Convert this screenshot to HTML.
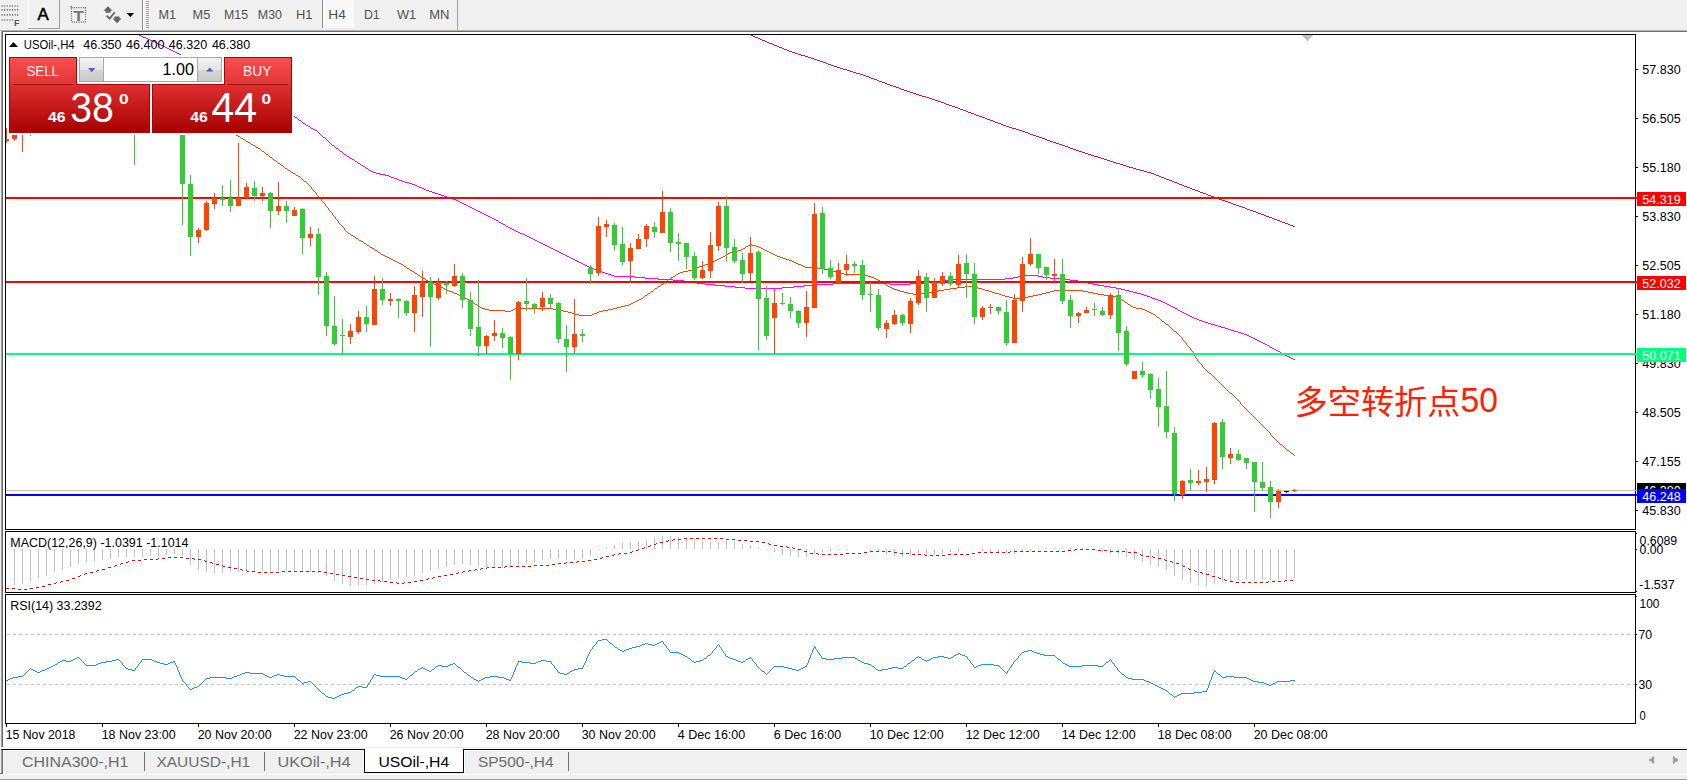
<!DOCTYPE html>
<html lang="zh">
<head>
<meta charset="utf-8">
<title>USOil-,H4</title>
<style>
html,body{margin:0;padding:0;background:#ffffff;}
body{width:1687px;height:780px;overflow:hidden;position:relative;}
svg{position:absolute;left:0;top:0;display:block;}
svg text{font-family:"Liberation Sans","Noto Sans CJK SC",sans-serif;white-space:pre;}
.crisp{shape-rendering:crispEdges;}
.cn{font-family:"Liberation Sans","Noto Sans CJK SC",sans-serif;font-weight:400;}
</style>
</head>
<body>
<svg width="1687" height="780" viewBox="0 0 1687 780">
<defs>
<linearGradient id="gTop" x1="0" y1="0" x2="0" y2="1"><stop offset="0" stop-color="#fb5050"/><stop offset="1" stop-color="#e23434"/></linearGradient>
<linearGradient id="gBot" x1="0" y1="0" x2="0" y2="1"><stop offset="0" stop-color="#e03030"/><stop offset="1" stop-color="#a60000"/></linearGradient>
<linearGradient id="gBtn" x1="0" y1="0" x2="0" y2="1"><stop offset="0" stop-color="#f4f4f4"/><stop offset="0.5" stop-color="#e4e4e4"/><stop offset="0.5" stop-color="#d6d6d6"/><stop offset="1" stop-color="#cacaca"/></linearGradient>
<clipPath id="clipMain"><rect x="6" y="35" width="1629" height="494"/></clipPath>
</defs>

<g id="toolbar" class="crisp">
<rect x="0" y="0" width="1687" height="30" fill="#f0f0f0"/>
<rect x="0" y="30" width="1687" height="1" fill="#b4b4b4"/>
<rect x="0" y="31" width="1687" height="1" fill="#6e6e6e"/>
<rect x="0" y="32" width="1687" height="2" fill="#ffffff"/>
</g><g id="toolbar-icons">
<line x1="1.5" y1="6" x2="18.6" y2="6" stroke="#6a6a6a" stroke-width="1.7" stroke-dasharray="1.1 1.5"/>
<line x1="1.5" y1="9.8" x2="18.6" y2="9.8" stroke="#6a6a6a" stroke-width="1.7" stroke-dasharray="1.1 1.5"/>
<line x1="1.5" y1="14.8" x2="18.6" y2="14.8" stroke="#6a6a6a" stroke-width="1.7" stroke-dasharray="1.1 1.5"/>
<line x1="1.5" y1="20" x2="13.2" y2="20" stroke="#6a6a6a" stroke-width="1.7" stroke-dasharray="1.1 1.5"/>
<rect x="28" y="0" width="1" height="29" fill="#ffffff" class="crisp"/>
<rect x="28" y="28" width="32" height="1" fill="#a0a0a0" class="crisp"/>
<rect x="59" y="0" width="1" height="29" fill="#a0a0a0" class="crisp"/>
<rect x="71.5" y="7.6" width="14" height="14.6" fill="none" stroke="#5a5a5a" stroke-width="1.2" stroke-dasharray="1 1.3"/>
<path d="M70 7.6l1.2-2.2l1.4 2.2z" fill="#707070"/>
<path d="M108 6.2l4.5 4.5h-2v2h-5v-2h-2zM117 23.2l4.5-4.6h-2v-2h-5v2h-2z" fill="#636363"/>
<path d="M106.6 15.6l3 3l5.2-6.4" stroke="#636363" stroke-width="1.8" fill="none"/>
<path d="M126.6 13h7.6l-3.8 4z" fill="#000"/>
</g><g class="crisp">
<rect x="142" y="0" width="1" height="30" fill="#8c8c8c"/>
<rect x="143" y="0" width="1" height="30" fill="#fafafa"/>
<rect x="146" y="1" width="3" height="1" fill="#a0a0a0"/>
<rect x="146" y="3" width="3" height="1" fill="#a0a0a0"/>
<rect x="146" y="5" width="3" height="1" fill="#a0a0a0"/>
<rect x="146" y="7" width="3" height="1" fill="#a0a0a0"/>
<rect x="146" y="9" width="3" height="1" fill="#a0a0a0"/>
<rect x="146" y="11" width="3" height="1" fill="#a0a0a0"/>
<rect x="146" y="13" width="3" height="1" fill="#a0a0a0"/>
<rect x="146" y="15" width="3" height="1" fill="#a0a0a0"/>
<rect x="146" y="17" width="3" height="1" fill="#a0a0a0"/>
<rect x="146" y="19" width="3" height="1" fill="#a0a0a0"/>
<rect x="146" y="21" width="3" height="1" fill="#a0a0a0"/>
<rect x="146" y="23" width="3" height="1" fill="#a0a0a0"/>
<rect x="146" y="25" width="3" height="1" fill="#a0a0a0"/>
<rect x="146" y="27" width="3" height="1" fill="#a0a0a0"/>
<rect x="322" y="0" width="31" height="28" fill="#f8f8f8"/>
<rect x="322" y="0" width="1" height="28" fill="#909090"/>
<rect x="353" y="0" width="1" height="28" fill="#ffffff"/>
<rect x="457" y="0" width="1" height="30" fill="#a0a0a0"/>
</g>
<g id="toolbar-text">
<text x="37.4" y="19.6" font-size="16.2" fill="#000" textLength="11.2" lengthAdjust="spacingAndGlyphs" stroke="#000" stroke-width="0.55">A</text>
<text x="73.2" y="20.8" font-size="14.6" fill="#767676" textLength="10.6" lengthAdjust="spacingAndGlyphs" font-weight="bold">T</text>
<text x="13.9" y="25.8" font-size="9.4" fill="#555" textLength="5.4" lengthAdjust="spacingAndGlyphs" font-weight="bold">F</text>
<text x="158.4" y="19.4" font-size="12.5" fill="#505050" textLength="17.6" lengthAdjust="spacingAndGlyphs">M1</text>
<text x="192.6" y="19.4" font-size="12.5" fill="#505050" textLength="17.6" lengthAdjust="spacingAndGlyphs">M5</text>
<text x="224.0" y="19.4" font-size="12.5" fill="#505050" textLength="24.0" lengthAdjust="spacingAndGlyphs">M15</text>
<text x="257.8" y="19.4" font-size="12.5" fill="#505050" textLength="24.2" lengthAdjust="spacingAndGlyphs">M30</text>
<text x="296.0" y="19.4" font-size="12.5" fill="#505050" textLength="16.4" lengthAdjust="spacingAndGlyphs">H1</text>
<text x="328.3" y="19.4" font-size="12.5" fill="#505050" textLength="17.5" lengthAdjust="spacingAndGlyphs">H4</text>
<text x="363.9" y="19.4" font-size="12.5" fill="#505050" textLength="15.9" lengthAdjust="spacingAndGlyphs">D1</text>
<text x="397.0" y="19.4" font-size="12.5" fill="#505050" textLength="19.2" lengthAdjust="spacingAndGlyphs">W1</text>
<text x="429.2" y="19.4" font-size="12.5" fill="#505050" textLength="20.2" lengthAdjust="spacingAndGlyphs">MN</text>
</g>
<g id="frame" class="crisp">
<rect x="0" y="31" width="1" height="744" fill="#f0f0f0"/>
<rect x="1" y="31" width="1" height="716" fill="#a0a0a0"/>
<rect x="2" y="31" width="1" height="716" fill="#696969"/>
<rect x="1" y="750" width="1" height="23" fill="#a0a0a0"/>
<rect x="2" y="750" width="1" height="23" fill="#696969"/>
<rect x="0" y="773" width="3" height="1" fill="#696969"/>
<rect x="5" y="34" width="1631" height="1" fill="#000"/>
<rect x="5" y="529" width="1631" height="1" fill="#000"/>
<rect x="5" y="34" width="1" height="496" fill="#000"/>
<rect x="1635" y="34" width="1" height="496" fill="#000"/>
<rect x="5" y="531" width="1631" height="1" fill="#000"/>
<rect x="5" y="592" width="1631" height="1" fill="#000"/>
<rect x="5" y="531" width="1" height="62" fill="#000"/>
<rect x="1635" y="531" width="1" height="62" fill="#000"/>
<rect x="5" y="594" width="1631" height="1" fill="#000"/>
<rect x="5" y="723" width="1631" height="1" fill="#000"/>
<rect x="5" y="594" width="1" height="130" fill="#000"/>
<rect x="1635" y="594" width="1" height="130" fill="#000"/>
</g>
<g id="main" class="crisp" clip-path="url(#clipMain)">
<path d="M1301.5 35h12l-6 6.5z" fill="#c0c0c0"/>
<path d="M749 34.5h2M751 35.5h2M753 36.5h2M755 37.5h3M758 38.5h2M760 39.5h2M762 40.5h3M765 41.5h2M767 42.5h2M769 43.5h3M772 44.5h2M774 45.5h3M777 46.5h2M779 47.5h3M782 48.5h2M784 49.5h3M787 50.5h2M789 51.5h3M792 52.5h3M795 53.5h3M798 54.5h3M801 55.5h4M805 56.5h3M808 57.5h3M811 58.5h3M814 59.5h3M817 60.5h3M820 61.5h3M823 62.5h3M826 63.5h2M828 64.5h3M831 65.5h3M834 66.5h3M837 67.5h3M840 68.5h3M843 69.5h4M847 70.5h3M850 71.5h3M853 72.5h3M856 73.5h4M860 74.5h3M863 75.5h3M866 76.5h3M869 77.5h2M871 78.5h3M874 79.5h3M877 80.5h2M879 81.5h3M882 82.5h3M885 83.5h2M887 84.5h3M890 85.5h3M893 86.5h3M896 87.5h3M899 88.5h2M901 89.5h3M904 90.5h3M907 91.5h3M910 92.5h3M913 93.5h3M916 94.5h3M919 95.5h3M922 96.5h4M926 97.5h3M929 98.5h3M932 99.5h3M935 100.5h3M938 101.5h3M941 102.5h3M944 103.5h2M946 104.5h3M949 105.5h3M952 106.5h3M955 107.5h3M958 108.5h2M960 109.5h3M963 110.5h3M966 111.5h2M968 112.5h3M971 113.5h3M974 114.5h2M976 115.5h3M979 116.5h3M982 117.5h3M985 118.5h2M987 119.5h3M990 120.5h3M993 121.5h2M995 122.5h3M998 123.5h3M1001 124.5h2M1003 125.5h3M1006 126.5h3M1009 127.5h3M1012 128.5h4M1016 129.5h3M1019 130.5h3M1022 131.5h3M1025 132.5h3M1028 133.5h2M1030 134.5h3M1033 135.5h3M1036 136.5h3M1039 137.5h3M1042 138.5h3M1045 139.5h2M1047 140.5h3M1050 141.5h3M1053 142.5h3M1056 143.5h3M1059 144.5h3M1062 145.5h3M1065 146.5h3M1068 147.5h2M1070 148.5h3M1073 149.5h3M1076 150.5h3M1079 151.5h3M1082 152.5h3M1085 153.5h3M1088 154.5h3M1091 155.5h3M1094 156.5h4M1098 157.5h3M1101 158.5h3M1104 159.5h3M1107 160.5h3M1110 161.5h3M1113 162.5h3M1116 163.5h4M1120 164.5h3M1123 165.5h3M1126 166.5h3M1129 167.5h4M1133 168.5h3M1136 169.5h4M1140 170.5h4M1144 171.5h3M1147 172.5h4M1151 173.5h3M1154 174.5h2M1156 175.5h3M1159 176.5h2M1161 177.5h3M1164 178.5h2M1166 179.5h3M1169 180.5h3M1172 181.5h2M1174 182.5h3M1177 183.5h2M1179 184.5h3M1182 185.5h2M1184 186.5h3M1187 187.5h3M1190 188.5h2M1192 189.5h3M1195 190.5h3M1198 191.5h2M1200 192.5h3M1203 193.5h3M1206 194.5h2M1208 195.5h3M1211 196.5h3M1214 197.5h3M1217 198.5h2M1219 199.5h3M1222 200.5h3M1225 201.5h3M1228 202.5h3M1231 203.5h2M1233 204.5h3M1236 205.5h3M1239 206.5h3M1242 207.5h3M1245 208.5h2M1247 209.5h3M1250 210.5h3M1253 211.5h3M1256 212.5h2M1258 213.5h3M1261 214.5h3M1264 215.5h2M1266 216.5h3M1269 217.5h3M1272 218.5h2M1274 219.5h3M1277 220.5h3M1280 221.5h2M1282 222.5h3M1285 223.5h3M1288 224.5h2M1290 225.5h3M1293 226.5h2" stroke="#dc143c" stroke-width="1" fill="none"/>
<path d="M137 34.5h2M139 35.5h2M141 36.5h2M143 37.5h3M146 38.5h2M148 39.5h2M150 40.5h2M152 41.5h3M155 42.5h2M157 43.5h2M159 44.5h2M161 45.5h2M163 46.5h2M165 47.5h2M167 48.5h2M169 49.5h2M171 50.5h2M173 51.5h2M175 52.5h2M177 53.5h2M179 54.5h2M181 55.5h2M183 56.5h2" stroke="#ff00ff" stroke-width="1" fill="none"/>
<path d="M294 116.5h1M295 117.5h2M297 118.5h1M298 119.5h1M299 120.5h2M301 121.5h1M302 122.5h1M303 123.5h2M305 124.5h1M306 125.5h2M308 126.5h2M310 127.5h1M311 128.5h2M313 129.5h2M315 130.5h2M317 131.5h1M318 132.5h1M319 133.5h1M320 134.5h1M321 135.5h1M322 136.5h1M323 137.5h2M325 138.5h1M326 139.5h1M327 140.5h1M328 141.5h1M329 142.5h1M330 143.5h1M331 144.5h1M332 145.5h2M334 146.5h1M335 147.5h1M336 148.5h2M338 149.5h1M339 150.5h1M340 151.5h2M342 152.5h1M343 153.5h1M344 154.5h2M346 155.5h1M347 156.5h2M349 157.5h1M350 158.5h2M352 159.5h2M354 160.5h1M355 161.5h2M357 162.5h1M358 163.5h2M360 164.5h1M361 165.5h2M363 166.5h2M365 167.5h1M366 168.5h2M368 169.5h1M369 170.5h2M371 171.5h2M373 172.5h3M376 173.5h4M380 174.5h5M385 175.5h4M389 176.5h2M391 177.5h3M394 178.5h3M397 179.5h2M399 180.5h3M402 181.5h3M405 182.5h4M409 183.5h3M412 184.5h3M415 185.5h2M417 186.5h2M419 187.5h3M422 188.5h2M424 189.5h2M426 190.5h3M429 191.5h3M432 192.5h3M435 193.5h3M438 194.5h3M441 195.5h3M444 196.5h3M447 197.5h3M450 198.5h3M453 199.5h3M456 200.5h2M458 201.5h2M460 202.5h2M462 203.5h2M464 204.5h2M466 205.5h2M468 206.5h2M470 207.5h2M472 208.5h2M474 209.5h2M476 210.5h2M478 211.5h2M480 212.5h2M482 213.5h2M484 214.5h2M486 215.5h2M488 216.5h2M490 217.5h2M492 218.5h2M494 219.5h2M496 220.5h2M498 221.5h1M499 222.5h2M501 223.5h2M503 224.5h2M505 225.5h1M506 226.5h2M508 227.5h2M510 228.5h2M512 229.5h2M514 230.5h2M516 231.5h2M518 232.5h2M520 233.5h3M523 234.5h2M525 235.5h2M527 236.5h2M529 237.5h2M531 238.5h2M533 239.5h2M535 240.5h2M537 241.5h2M539 242.5h2M541 243.5h2M543 244.5h2M545 245.5h2M547 246.5h2M549 247.5h2M551 248.5h2M553 249.5h2M555 250.5h2M557 251.5h2M559 252.5h2M561 253.5h2M563 254.5h2M565 255.5h2M567 256.5h2M569 257.5h2M571 258.5h2M573 259.5h2M575 260.5h2M577 261.5h2M579 262.5h2M581 263.5h2M583 264.5h2M585 265.5h2M587 266.5h2M589 267.5h3M592 268.5h2M594 269.5h3M597 270.5h2M599 271.5h3M602 272.5h3M605 273.5h3M608 274.5h3M611 275.5h3M1023 275.5h15M614 276.5h21M1018 276.5h5M1038 276.5h5M635 277.5h10M1013 277.5h5M1043 277.5h7M645 278.5h13M1005 278.5h8M1050 278.5h10M658 279.5h15M948 279.5h57M1060 279.5h10M673 280.5h11M943 280.5h5M1070 280.5h8M684 281.5h6M935 281.5h8M1078 281.5h5M690 282.5h7M925 282.5h10M1083 282.5h5M697 283.5h8M833 283.5h57M910 283.5h15M1088 283.5h5M705 284.5h10M812 284.5h21M890 284.5h20M1093 284.5h5M715 285.5h10M804 285.5h8M1098 285.5h6M725 286.5h10M794 286.5h10M1104 286.5h6M735 287.5h10M782 287.5h12M1110 287.5h6M745 288.5h37M1116 288.5h5M1121 289.5h4M1125 290.5h4M1129 291.5h4M1133 292.5h4M1137 293.5h4M1141 294.5h3M1144 295.5h3M1147 296.5h3M1150 297.5h2M1152 298.5h3M1155 299.5h3M1158 300.5h3M1161 301.5h2M1163 302.5h2M1165 303.5h2M1167 304.5h2M1169 305.5h2M1171 306.5h2M1173 307.5h2M1175 308.5h2M1177 309.5h1M1178 310.5h2M1180 311.5h2M1182 312.5h2M1184 313.5h2M1186 314.5h2M1188 315.5h2M1190 316.5h2M1192 317.5h2M1194 318.5h3M1197 319.5h2M1199 320.5h3M1202 321.5h3M1205 322.5h3M1208 323.5h3M1211 324.5h4M1215 325.5h3M1218 326.5h3M1221 327.5h4M1225 328.5h3M1228 329.5h3M1231 330.5h3M1234 331.5h4M1238 332.5h3M1241 333.5h3M1244 334.5h3M1247 335.5h2M1249 336.5h2M1251 337.5h2M1253 338.5h2M1255 339.5h2M1257 340.5h2M1259 341.5h2M1261 342.5h2M1263 343.5h2M1265 344.5h2M1267 345.5h2M1269 346.5h1M1270 347.5h2M1272 348.5h2M1274 349.5h2M1276 350.5h2M1278 351.5h2M1280 352.5h1M1281 353.5h2M1283 354.5h2M1285 355.5h2M1287 356.5h2M1289 357.5h2M1291 358.5h2M1293 359.5h2" stroke="#ff00ff" stroke-width="1" fill="none"/>
<path d="M235 134.5h1M236 135.5h2M238 136.5h2M240 137.5h1M241 138.5h2M243 139.5h2M245 140.5h1M246 141.5h2M248 142.5h2M250 143.5h1M251 144.5h2M253 145.5h2M255 146.5h1M256 147.5h2M258 148.5h2M260 149.5h1M261 150.5h1M262 151.5h2M264 152.5h1M265 153.5h1M266 154.5h2M268 155.5h1M269 156.5h1M270 157.5h2M272 158.5h1M273 159.5h1M274 160.5h2M276 161.5h1M277 162.5h1M278 163.5h2M280 164.5h1M281 165.5h2M283 166.5h1M284 167.5h1M285 168.5h2M287 169.5h1M288 170.5h2M290 171.5h1M291 172.5h2M293 173.5h2M295 174.5h1M296 175.5h2M298 176.5h2M300 177.5h1M301 178.5h1M302 179.5h1M303 180.5h1M304 181.5h2M306 182.5h1M307 183.5h1M308 184.5h1M309 185.5h1M310 186.5h1M311 187.5h1M311 188.5h1M312 189.5h1M313 190.5h1M314 191.5h1M315 192.5h1M316 193.5h1M316 194.5h1M317 195.5h1M318 196.5h1M319 197.5h1M320 198.5h1M321 199.5h1M321 200.5h1M322 201.5h1M323 202.5h1M324 203.5h1M325 204.5h1M325 205.5h1M326 206.5h1M327 207.5h1M328 208.5h1M328 209.5h1M329 210.5h1M330 211.5h1M331 212.5h1M332 213.5h1M332 214.5h1M333 215.5h1M334 216.5h1M335 217.5h1M335 218.5h1M336 219.5h1M337 220.5h1M338 221.5h1M338 222.5h1M339 223.5h1M340 224.5h1M341 225.5h1M342 226.5h1M343 227.5h1M344 228.5h1M344 229.5h1M345 230.5h1M346 231.5h1M347 232.5h1M348 233.5h2M350 234.5h1M351 235.5h2M353 236.5h2M355 237.5h1M356 238.5h2M358 239.5h1M359 240.5h2M361 241.5h2M363 242.5h1M364 243.5h2M366 244.5h1M750 244.5h2M367 245.5h2M748 245.5h2M752 245.5h4M369 246.5h1M746 246.5h2M756 246.5h3M370 247.5h2M745 247.5h1M759 247.5h2M372 248.5h2M743 248.5h2M761 248.5h2M374 249.5h1M741 249.5h2M763 249.5h2M375 250.5h2M738 250.5h3M765 250.5h2M377 251.5h1M733 251.5h5M767 251.5h2M378 252.5h2M730 252.5h3M769 252.5h2M380 253.5h1M728 253.5h2M771 253.5h2M381 254.5h2M726 254.5h2M773 254.5h2M383 255.5h2M725 255.5h1M775 255.5h2M385 256.5h2M723 256.5h2M777 256.5h3M387 257.5h2M721 257.5h2M780 257.5h3M389 258.5h2M719 258.5h2M783 258.5h3M391 259.5h2M717 259.5h2M786 259.5h3M393 260.5h2M715 260.5h2M789 260.5h3M395 261.5h2M713 261.5h2M792 261.5h2M397 262.5h2M711 262.5h2M794 262.5h2M399 263.5h2M709 263.5h2M796 263.5h2M401 264.5h2M705 264.5h4M798 264.5h3M403 265.5h1M702 265.5h3M801 265.5h2M404 266.5h2M699 266.5h3M803 266.5h2M406 267.5h1M697 267.5h2M805 267.5h13M407 268.5h2M694 268.5h3M818 268.5h6M409 269.5h1M692 269.5h2M824 269.5h4M410 270.5h2M688 270.5h4M828 270.5h4M412 271.5h2M683 271.5h5M832 271.5h4M414 272.5h1M680 272.5h3M836 272.5h4M415 273.5h2M678 273.5h2M840 273.5h4M417 274.5h1M676 274.5h2M844 274.5h18M418 275.5h2M675 275.5h1M862 275.5h6M420 276.5h1M673 276.5h2M868 276.5h3M421 277.5h2M671 277.5h2M871 277.5h3M423 278.5h2M670 278.5h1M874 278.5h2M425 279.5h1M668 279.5h2M876 279.5h2M426 280.5h2M667 280.5h1M878 280.5h2M428 281.5h2M665 281.5h2M880 281.5h1M430 282.5h2M664 282.5h1M881 282.5h2M432 283.5h2M663 283.5h1M883 283.5h2M434 284.5h3M661 284.5h2M885 284.5h1M437 285.5h2M660 285.5h1M886 285.5h2M439 286.5h2M658 286.5h2M888 286.5h2M965 286.5h8M441 287.5h2M657 287.5h1M890 287.5h2M957 287.5h8M973 287.5h5M443 288.5h2M655 288.5h2M892 288.5h2M950 288.5h7M978 288.5h4M445 289.5h2M654 289.5h1M894 289.5h3M944 289.5h6M982 289.5h3M447 290.5h2M653 290.5h1M897 290.5h3M938 290.5h6M985 290.5h4M1054 290.5h29M449 291.5h3M651 291.5h2M900 291.5h4M933 291.5h5M989 291.5h3M1050 291.5h4M1083 291.5h5M452 292.5h2M650 292.5h1M904 292.5h4M928 292.5h5M992 292.5h3M1046 292.5h4M1088 292.5h5M454 293.5h3M648 293.5h2M908 293.5h5M920 293.5h8M995 293.5h4M1042 293.5h4M1093 293.5h5M457 294.5h2M647 294.5h1M913 294.5h7M999 294.5h3M1038 294.5h4M1098 294.5h6M459 295.5h2M645 295.5h2M1002 295.5h3M1033 295.5h5M1104 295.5h8M461 296.5h2M644 296.5h1M1005 296.5h4M1028 296.5h5M1112 296.5h5M463 297.5h2M643 297.5h1M1009 297.5h4M1020 297.5h8M1117 297.5h2M465 298.5h2M641 298.5h2M1013 298.5h7M1119 298.5h2M467 299.5h2M639 299.5h2M1121 299.5h1M469 300.5h2M637 300.5h2M1122 300.5h2M471 301.5h2M635 301.5h2M1124 301.5h1M473 302.5h1M633 302.5h2M1125 302.5h2M474 303.5h1M631 303.5h2M1127 303.5h1M475 304.5h2M629 304.5h2M1128 304.5h2M477 305.5h1M625 305.5h4M1130 305.5h1M478 306.5h2M621 306.5h4M1131 306.5h2M480 307.5h2M617 307.5h4M1133 307.5h3M482 308.5h3M515 308.5h38M613 308.5h4M1136 308.5h6M485 309.5h4M513 309.5h2M553 309.5h5M608 309.5h5M1142 309.5h3M489 310.5h16M511 310.5h2M558 310.5h5M603 310.5h5M1145 310.5h2M505 311.5h6M563 311.5h5M599 311.5h4M1147 311.5h2M568 312.5h4M597 312.5h2M1149 312.5h2M572 313.5h3M594 313.5h3M1151 313.5h2M575 314.5h4M592 314.5h2M1153 314.5h2M579 315.5h13M1155 315.5h1M1156 316.5h1M1157 317.5h2M1159 318.5h1M1160 319.5h1M1161 320.5h1M1162 321.5h2M1164 322.5h1M1165 323.5h1M1166 324.5h2M1168 325.5h1M1169 326.5h1M1170 327.5h1M1171 328.5h1M1172 329.5h1M1173 330.5h1M1174 331.5h2M1176 332.5h1M1177 333.5h1M1178 334.5h1M1179 335.5h1M1180 336.5h1M1181 337.5h1M1182 338.5h1M1182 339.5h1M1183 340.5h1M1184 341.5h1M1185 342.5h1M1186 343.5h1M1186 344.5h1M1187 345.5h1M1188 346.5h1M1189 347.5h1M1190 348.5h1M1190 349.5h1M1191 350.5h1M1192 351.5h1M1193 352.5h1M1193 353.5h1M1194 354.5h1M1194 355.5h1M1195 356.5h1M1195 357.5h1M1196 358.5h1M1197 359.5h1M1197 360.5h1M1198 361.5h1M1199 362.5h1M1200 363.5h1M1201 364.5h1M1202 365.5h1M1202 366.5h1M1203 367.5h1M1204 368.5h1M1205 369.5h1M1206 370.5h1M1207 371.5h1M1208 372.5h1M1209 373.5h2M1211 374.5h1M1212 375.5h1M1213 376.5h1M1214 377.5h1M1215 378.5h1M1216 379.5h1M1217 380.5h1M1218 381.5h1M1219 382.5h1M1220 383.5h1M1221 384.5h1M1222 385.5h1M1223 386.5h1M1224 387.5h1M1225 388.5h1M1226 389.5h1M1227 390.5h1M1228 391.5h1M1229 392.5h1M1230 393.5h2M1232 394.5h1M1233 395.5h1M1234 396.5h1M1235 397.5h1M1236 398.5h1M1237 399.5h1M1238 400.5h1M1239 401.5h1M1240 402.5h1M1240 403.5h1M1241 404.5h1M1242 405.5h1M1243 406.5h1M1244 407.5h1M1245 408.5h1M1246 409.5h1M1247 410.5h1M1248 411.5h1M1249 412.5h1M1250 413.5h1M1251 414.5h1M1252 415.5h1M1253 416.5h1M1254 417.5h1M1255 418.5h1M1256 419.5h1M1257 420.5h1M1258 421.5h1M1259 422.5h1M1260 423.5h1M1261 424.5h1M1262 425.5h1M1263 426.5h1M1264 427.5h1M1265 428.5h1M1266 429.5h1M1267 430.5h1M1268 431.5h1M1269 432.5h1M1270 433.5h1M1270 434.5h1M1271 435.5h1M1272 436.5h1M1273 437.5h1M1274 438.5h1M1275 439.5h1M1276 440.5h1M1277 441.5h1M1278 442.5h1M1279 443.5h1M1280 444.5h2M1282 445.5h1M1283 446.5h1M1284 447.5h1M1285 448.5h1M1286 449.5h1M1287 450.5h2M1289 451.5h1M1290 452.5h1M1291 453.5h2M1293 454.5h1M1294 455.5h1" stroke="#ff4500" stroke-width="1" fill="none"/>
<rect x="6" y="197" width="1629" height="2" fill="#ff0000"/>
<rect x="6" y="281" width="1629" height="2" fill="#ff0000"/>
<rect x="6" y="353" width="1629" height="2" fill="#00ff7f"/>
<rect x="6" y="490" width="1629" height="1" fill="#c0c0c0"/>
<rect x="6" y="494" width="1629" height="2" fill="#0000ff"/>
<rect x="6" y="128" width="1" height="15" fill="#ff4500"/>
<rect x="4" y="139" width="5" height="2" fill="#ff4500"/>
<rect x="14" y="120" width="1" height="21" fill="#ff4500"/>
<rect x="12" y="120" width="5" height="19" fill="#ff4500"/>
<rect x="22" y="120" width="1" height="32" fill="#ff4500"/>
<rect x="20" y="120" width="5" height="1" fill="#ff4500"/>
<rect x="30" y="120" width="1" height="16" fill="#ff4500"/>
<rect x="28" y="120" width="5" height="1" fill="#ff4500"/>
<rect x="134" y="120" width="1" height="45" fill="#32cd32"/>
<rect x="132" y="120" width="5" height="1" fill="#32cd32"/>
<rect x="182" y="100" width="1" height="125" fill="#32cd32"/>
<rect x="180" y="100" width="5" height="84" fill="#32cd32"/>
<rect x="190" y="175" width="1" height="81" fill="#32cd32"/>
<rect x="188" y="184" width="5" height="53" fill="#32cd32"/>
<rect x="198" y="228" width="1" height="15" fill="#ff4500"/>
<rect x="196" y="230" width="5" height="7" fill="#ff4500"/>
<rect x="206" y="201" width="1" height="30" fill="#ff4500"/>
<rect x="204" y="203" width="5" height="27" fill="#ff4500"/>
<rect x="214" y="193" width="1" height="16" fill="#ff4500"/>
<rect x="212" y="198" width="5" height="6" fill="#ff4500"/>
<rect x="222" y="185" width="1" height="21" fill="#32cd32"/>
<rect x="220" y="198" width="5" height="2" fill="#32cd32"/>
<rect x="230" y="180" width="1" height="32" fill="#32cd32"/>
<rect x="228" y="198" width="5" height="8" fill="#32cd32"/>
<rect x="238" y="143" width="1" height="63" fill="#ff4500"/>
<rect x="236" y="198" width="5" height="8" fill="#ff4500"/>
<rect x="246" y="183" width="1" height="15" fill="#ff4500"/>
<rect x="244" y="187" width="5" height="11" fill="#ff4500"/>
<rect x="254" y="181" width="1" height="20" fill="#32cd32"/>
<rect x="252" y="188" width="5" height="8" fill="#32cd32"/>
<rect x="262" y="187" width="1" height="14" fill="#ff4500"/>
<rect x="260" y="193" width="5" height="3" fill="#ff4500"/>
<rect x="270" y="192" width="1" height="36" fill="#32cd32"/>
<rect x="268" y="193" width="5" height="18" fill="#32cd32"/>
<rect x="278" y="182" width="1" height="33" fill="#ff4500"/>
<rect x="276" y="206" width="5" height="5" fill="#ff4500"/>
<rect x="286" y="201" width="1" height="22" fill="#32cd32"/>
<rect x="284" y="206" width="5" height="5" fill="#32cd32"/>
<rect x="294" y="207" width="1" height="9" fill="#ff4500"/>
<rect x="292" y="210" width="5" height="6" fill="#ff4500"/>
<rect x="302" y="208" width="1" height="46" fill="#32cd32"/>
<rect x="300" y="209" width="5" height="29" fill="#32cd32"/>
<rect x="310" y="227" width="1" height="19" fill="#ff4500"/>
<rect x="308" y="234" width="5" height="4" fill="#ff4500"/>
<rect x="318" y="228" width="1" height="67" fill="#32cd32"/>
<rect x="316" y="234" width="5" height="43" fill="#32cd32"/>
<rect x="326" y="272" width="1" height="64" fill="#32cd32"/>
<rect x="324" y="276" width="5" height="50" fill="#32cd32"/>
<rect x="334" y="296" width="1" height="50" fill="#32cd32"/>
<rect x="332" y="326" width="5" height="18" fill="#32cd32"/>
<rect x="342" y="319" width="1" height="35" fill="#32cd32"/>
<rect x="340" y="335" width="5" height="1" fill="#32cd32"/>
<rect x="350" y="324" width="1" height="20" fill="#ff4500"/>
<rect x="348" y="331" width="5" height="6" fill="#ff4500"/>
<rect x="358" y="311" width="1" height="23" fill="#ff4500"/>
<rect x="356" y="317" width="5" height="15" fill="#ff4500"/>
<rect x="366" y="306" width="1" height="26" fill="#32cd32"/>
<rect x="364" y="317" width="5" height="7" fill="#32cd32"/>
<rect x="374" y="276" width="1" height="49" fill="#ff4500"/>
<rect x="372" y="289" width="5" height="36" fill="#ff4500"/>
<rect x="382" y="278" width="1" height="27" fill="#32cd32"/>
<rect x="380" y="289" width="5" height="11" fill="#32cd32"/>
<rect x="390" y="293" width="1" height="13" fill="#ff4500"/>
<rect x="388" y="299" width="5" height="2" fill="#ff4500"/>
<rect x="398" y="298" width="1" height="20" fill="#32cd32"/>
<rect x="396" y="299" width="5" height="2" fill="#32cd32"/>
<rect x="406" y="300" width="1" height="16" fill="#32cd32"/>
<rect x="404" y="301" width="5" height="12" fill="#32cd32"/>
<rect x="414" y="286" width="1" height="46" fill="#ff4500"/>
<rect x="412" y="295" width="5" height="18" fill="#ff4500"/>
<rect x="422" y="271" width="1" height="46" fill="#ff4500"/>
<rect x="420" y="282" width="5" height="15" fill="#ff4500"/>
<rect x="430" y="277" width="1" height="70" fill="#32cd32"/>
<rect x="428" y="282" width="5" height="15" fill="#32cd32"/>
<rect x="438" y="278" width="1" height="22" fill="#ff4500"/>
<rect x="436" y="282" width="5" height="16" fill="#ff4500"/>
<rect x="446" y="281" width="1" height="13" fill="#32cd32"/>
<rect x="444" y="283" width="5" height="2" fill="#32cd32"/>
<rect x="454" y="264" width="1" height="23" fill="#ff4500"/>
<rect x="452" y="276" width="5" height="10" fill="#ff4500"/>
<rect x="462" y="273" width="1" height="35" fill="#32cd32"/>
<rect x="460" y="276" width="5" height="24" fill="#32cd32"/>
<rect x="470" y="292" width="1" height="44" fill="#32cd32"/>
<rect x="468" y="300" width="5" height="29" fill="#32cd32"/>
<rect x="478" y="280" width="1" height="76" fill="#32cd32"/>
<rect x="476" y="327" width="5" height="19" fill="#32cd32"/>
<rect x="486" y="335" width="1" height="19" fill="#ff4500"/>
<rect x="484" y="336" width="5" height="10" fill="#ff4500"/>
<rect x="494" y="320" width="1" height="21" fill="#ff4500"/>
<rect x="492" y="333" width="5" height="3" fill="#ff4500"/>
<rect x="502" y="328" width="1" height="20" fill="#32cd32"/>
<rect x="500" y="333" width="5" height="5" fill="#32cd32"/>
<rect x="510" y="336" width="1" height="44" fill="#32cd32"/>
<rect x="508" y="337" width="5" height="17" fill="#32cd32"/>
<rect x="518" y="301" width="1" height="59" fill="#ff4500"/>
<rect x="516" y="302" width="5" height="52" fill="#ff4500"/>
<rect x="526" y="278" width="1" height="33" fill="#32cd32"/>
<rect x="524" y="301" width="5" height="3" fill="#32cd32"/>
<rect x="534" y="303" width="1" height="11" fill="#32cd32"/>
<rect x="532" y="304" width="5" height="4" fill="#32cd32"/>
<rect x="542" y="292" width="1" height="19" fill="#ff4500"/>
<rect x="540" y="298" width="5" height="9" fill="#ff4500"/>
<rect x="550" y="294" width="1" height="14" fill="#32cd32"/>
<rect x="548" y="298" width="5" height="6" fill="#32cd32"/>
<rect x="558" y="302" width="1" height="41" fill="#32cd32"/>
<rect x="556" y="303" width="5" height="36" fill="#32cd32"/>
<rect x="566" y="325" width="1" height="47" fill="#32cd32"/>
<rect x="564" y="339" width="5" height="8" fill="#32cd32"/>
<rect x="574" y="299" width="1" height="54" fill="#ff4500"/>
<rect x="572" y="334" width="5" height="13" fill="#ff4500"/>
<rect x="582" y="329" width="1" height="13" fill="#32cd32"/>
<rect x="580" y="334" width="5" height="2" fill="#32cd32"/>
<rect x="590" y="265" width="1" height="19" fill="#32cd32"/>
<rect x="588" y="268" width="5" height="6" fill="#32cd32"/>
<rect x="598" y="217" width="1" height="59" fill="#ff4500"/>
<rect x="596" y="226" width="5" height="47" fill="#ff4500"/>
<rect x="606" y="220" width="1" height="17" fill="#ff4500"/>
<rect x="604" y="224" width="5" height="3" fill="#ff4500"/>
<rect x="614" y="223" width="1" height="28" fill="#32cd32"/>
<rect x="612" y="225" width="5" height="20" fill="#32cd32"/>
<rect x="622" y="227" width="1" height="38" fill="#32cd32"/>
<rect x="620" y="244" width="5" height="18" fill="#32cd32"/>
<rect x="630" y="243" width="1" height="40" fill="#ff4500"/>
<rect x="628" y="248" width="5" height="13" fill="#ff4500"/>
<rect x="638" y="234" width="1" height="15" fill="#ff4500"/>
<rect x="636" y="239" width="5" height="10" fill="#ff4500"/>
<rect x="646" y="224" width="1" height="23" fill="#ff4500"/>
<rect x="644" y="226" width="5" height="13" fill="#ff4500"/>
<rect x="654" y="222" width="1" height="16" fill="#32cd32"/>
<rect x="652" y="227" width="5" height="5" fill="#32cd32"/>
<rect x="662" y="191" width="1" height="42" fill="#ff4500"/>
<rect x="660" y="212" width="5" height="21" fill="#ff4500"/>
<rect x="670" y="208" width="1" height="44" fill="#32cd32"/>
<rect x="668" y="212" width="5" height="31" fill="#32cd32"/>
<rect x="678" y="233" width="1" height="28" fill="#32cd32"/>
<rect x="676" y="242" width="5" height="2" fill="#32cd32"/>
<rect x="686" y="243" width="1" height="26" fill="#32cd32"/>
<rect x="684" y="243" width="5" height="14" fill="#32cd32"/>
<rect x="694" y="252" width="1" height="28" fill="#32cd32"/>
<rect x="692" y="256" width="5" height="22" fill="#32cd32"/>
<rect x="702" y="261" width="1" height="18" fill="#ff4500"/>
<rect x="700" y="270" width="5" height="8" fill="#ff4500"/>
<rect x="710" y="232" width="1" height="46" fill="#ff4500"/>
<rect x="708" y="245" width="5" height="26" fill="#ff4500"/>
<rect x="718" y="202" width="1" height="49" fill="#ff4500"/>
<rect x="716" y="206" width="5" height="40" fill="#ff4500"/>
<rect x="726" y="196" width="1" height="66" fill="#32cd32"/>
<rect x="724" y="206" width="5" height="42" fill="#32cd32"/>
<rect x="734" y="239" width="1" height="24" fill="#32cd32"/>
<rect x="732" y="247" width="5" height="14" fill="#32cd32"/>
<rect x="742" y="253" width="1" height="30" fill="#32cd32"/>
<rect x="740" y="260" width="5" height="14" fill="#32cd32"/>
<rect x="750" y="237" width="1" height="44" fill="#ff4500"/>
<rect x="748" y="253" width="5" height="20" fill="#ff4500"/>
<rect x="758" y="250" width="1" height="100" fill="#32cd32"/>
<rect x="756" y="252" width="5" height="47" fill="#32cd32"/>
<rect x="766" y="286" width="1" height="54" fill="#32cd32"/>
<rect x="764" y="298" width="5" height="38" fill="#32cd32"/>
<rect x="774" y="288" width="1" height="66" fill="#ff4500"/>
<rect x="772" y="303" width="5" height="15" fill="#ff4500"/>
<rect x="782" y="293" width="1" height="12" fill="#32cd32"/>
<rect x="780" y="303" width="5" height="1" fill="#32cd32"/>
<rect x="790" y="297" width="1" height="21" fill="#32cd32"/>
<rect x="788" y="304" width="5" height="7" fill="#32cd32"/>
<rect x="798" y="310" width="1" height="18" fill="#32cd32"/>
<rect x="796" y="311" width="5" height="12" fill="#32cd32"/>
<rect x="806" y="291" width="1" height="46" fill="#ff4500"/>
<rect x="804" y="307" width="5" height="16" fill="#ff4500"/>
<rect x="814" y="203" width="1" height="105" fill="#ff4500"/>
<rect x="812" y="214" width="5" height="94" fill="#ff4500"/>
<rect x="822" y="207" width="1" height="67" fill="#32cd32"/>
<rect x="820" y="213" width="5" height="56" fill="#32cd32"/>
<rect x="830" y="260" width="1" height="19" fill="#32cd32"/>
<rect x="828" y="268" width="5" height="9" fill="#32cd32"/>
<rect x="838" y="263" width="1" height="20" fill="#ff4500"/>
<rect x="836" y="270" width="5" height="13" fill="#ff4500"/>
<rect x="846" y="255" width="1" height="21" fill="#ff4500"/>
<rect x="844" y="264" width="5" height="6" fill="#ff4500"/>
<rect x="854" y="261" width="1" height="12" fill="#32cd32"/>
<rect x="852" y="264" width="5" height="2" fill="#32cd32"/>
<rect x="862" y="260" width="1" height="40" fill="#32cd32"/>
<rect x="860" y="265" width="5" height="30" fill="#32cd32"/>
<rect x="870" y="282" width="1" height="30" fill="#32cd32"/>
<rect x="868" y="294" width="5" height="1" fill="#32cd32"/>
<rect x="878" y="289" width="1" height="42" fill="#32cd32"/>
<rect x="876" y="295" width="5" height="33" fill="#32cd32"/>
<rect x="886" y="320" width="1" height="18" fill="#ff4500"/>
<rect x="884" y="323" width="5" height="6" fill="#ff4500"/>
<rect x="894" y="310" width="1" height="15" fill="#ff4500"/>
<rect x="892" y="315" width="5" height="9" fill="#ff4500"/>
<rect x="902" y="314" width="1" height="12" fill="#32cd32"/>
<rect x="900" y="315" width="5" height="8" fill="#32cd32"/>
<rect x="910" y="298" width="1" height="35" fill="#ff4500"/>
<rect x="908" y="301" width="5" height="23" fill="#ff4500"/>
<rect x="918" y="270" width="1" height="35" fill="#ff4500"/>
<rect x="916" y="276" width="5" height="27" fill="#ff4500"/>
<rect x="926" y="273" width="1" height="39" fill="#32cd32"/>
<rect x="924" y="277" width="5" height="21" fill="#32cd32"/>
<rect x="934" y="278" width="1" height="20" fill="#ff4500"/>
<rect x="932" y="282" width="5" height="16" fill="#ff4500"/>
<rect x="942" y="272" width="1" height="14" fill="#ff4500"/>
<rect x="940" y="276" width="5" height="8" fill="#ff4500"/>
<rect x="950" y="272" width="1" height="14" fill="#32cd32"/>
<rect x="948" y="276" width="5" height="8" fill="#32cd32"/>
<rect x="958" y="255" width="1" height="33" fill="#ff4500"/>
<rect x="956" y="264" width="5" height="21" fill="#ff4500"/>
<rect x="966" y="254" width="1" height="44" fill="#32cd32"/>
<rect x="964" y="263" width="5" height="11" fill="#32cd32"/>
<rect x="974" y="263" width="1" height="61" fill="#32cd32"/>
<rect x="972" y="274" width="5" height="43" fill="#32cd32"/>
<rect x="982" y="306" width="1" height="14" fill="#ff4500"/>
<rect x="980" y="308" width="5" height="9" fill="#ff4500"/>
<rect x="990" y="304" width="1" height="10" fill="#ff4500"/>
<rect x="988" y="307" width="5" height="1" fill="#ff4500"/>
<rect x="998" y="307" width="1" height="8" fill="#32cd32"/>
<rect x="996" y="307" width="5" height="4" fill="#32cd32"/>
<rect x="1006" y="300" width="1" height="46" fill="#32cd32"/>
<rect x="1004" y="312" width="5" height="31" fill="#32cd32"/>
<rect x="1014" y="294" width="1" height="49" fill="#ff4500"/>
<rect x="1012" y="300" width="5" height="43" fill="#ff4500"/>
<rect x="1022" y="257" width="1" height="55" fill="#ff4500"/>
<rect x="1020" y="264" width="5" height="37" fill="#ff4500"/>
<rect x="1030" y="238" width="1" height="28" fill="#ff4500"/>
<rect x="1028" y="254" width="5" height="10" fill="#ff4500"/>
<rect x="1038" y="254" width="1" height="20" fill="#32cd32"/>
<rect x="1036" y="254" width="5" height="14" fill="#32cd32"/>
<rect x="1046" y="267" width="1" height="13" fill="#32cd32"/>
<rect x="1044" y="267" width="5" height="8" fill="#32cd32"/>
<rect x="1054" y="259" width="1" height="23" fill="#ff4500"/>
<rect x="1052" y="274" width="5" height="2" fill="#ff4500"/>
<rect x="1062" y="259" width="1" height="45" fill="#32cd32"/>
<rect x="1060" y="274" width="5" height="27" fill="#32cd32"/>
<rect x="1070" y="295" width="1" height="33" fill="#32cd32"/>
<rect x="1068" y="300" width="5" height="16" fill="#32cd32"/>
<rect x="1078" y="312" width="1" height="11" fill="#ff4500"/>
<rect x="1076" y="313" width="5" height="3" fill="#ff4500"/>
<rect x="1086" y="307" width="1" height="6" fill="#ff4500"/>
<rect x="1084" y="310" width="5" height="3" fill="#ff4500"/>
<rect x="1094" y="303" width="1" height="13" fill="#32cd32"/>
<rect x="1092" y="309" width="5" height="1" fill="#32cd32"/>
<rect x="1102" y="307" width="1" height="9" fill="#32cd32"/>
<rect x="1100" y="311" width="5" height="4" fill="#32cd32"/>
<rect x="1110" y="293" width="1" height="26" fill="#ff4500"/>
<rect x="1108" y="295" width="5" height="20" fill="#ff4500"/>
<rect x="1118" y="288" width="1" height="63" fill="#32cd32"/>
<rect x="1116" y="295" width="5" height="38" fill="#32cd32"/>
<rect x="1126" y="326" width="1" height="40" fill="#32cd32"/>
<rect x="1124" y="331" width="5" height="33" fill="#32cd32"/>
<rect x="1134" y="371" width="1" height="8" fill="#ff4500"/>
<rect x="1132" y="371" width="5" height="8" fill="#ff4500"/>
<rect x="1142" y="362" width="1" height="16" fill="#32cd32"/>
<rect x="1140" y="371" width="5" height="4" fill="#32cd32"/>
<rect x="1150" y="373" width="1" height="26" fill="#32cd32"/>
<rect x="1148" y="374" width="5" height="16" fill="#32cd32"/>
<rect x="1158" y="378" width="1" height="49" fill="#32cd32"/>
<rect x="1156" y="389" width="5" height="18" fill="#32cd32"/>
<rect x="1166" y="371" width="1" height="67" fill="#32cd32"/>
<rect x="1164" y="406" width="5" height="26" fill="#32cd32"/>
<rect x="1174" y="427" width="1" height="74" fill="#32cd32"/>
<rect x="1172" y="433" width="5" height="61" fill="#32cd32"/>
<rect x="1182" y="480" width="1" height="19" fill="#ff4500"/>
<rect x="1180" y="481" width="5" height="14" fill="#ff4500"/>
<rect x="1190" y="469" width="1" height="22" fill="#32cd32"/>
<rect x="1188" y="480" width="5" height="3" fill="#32cd32"/>
<rect x="1198" y="470" width="1" height="15" fill="#ff4500"/>
<rect x="1196" y="481" width="5" height="2" fill="#ff4500"/>
<rect x="1206" y="467" width="1" height="25" fill="#ff4500"/>
<rect x="1204" y="479" width="5" height="3" fill="#ff4500"/>
<rect x="1214" y="422" width="1" height="62" fill="#ff4500"/>
<rect x="1212" y="423" width="5" height="57" fill="#ff4500"/>
<rect x="1222" y="419" width="1" height="50" fill="#32cd32"/>
<rect x="1220" y="422" width="5" height="35" fill="#32cd32"/>
<rect x="1230" y="448" width="1" height="16" fill="#ff4500"/>
<rect x="1228" y="454" width="5" height="4" fill="#ff4500"/>
<rect x="1238" y="450" width="1" height="11" fill="#32cd32"/>
<rect x="1236" y="454" width="5" height="6" fill="#32cd32"/>
<rect x="1246" y="458" width="1" height="11" fill="#32cd32"/>
<rect x="1244" y="458" width="5" height="5" fill="#32cd32"/>
<rect x="1254" y="462" width="1" height="50" fill="#32cd32"/>
<rect x="1252" y="462" width="5" height="20" fill="#32cd32"/>
<rect x="1262" y="462" width="1" height="29" fill="#32cd32"/>
<rect x="1260" y="482" width="5" height="6" fill="#32cd32"/>
<rect x="1270" y="481" width="1" height="37" fill="#32cd32"/>
<rect x="1268" y="487" width="5" height="15" fill="#32cd32"/>
<rect x="1278" y="489" width="1" height="19" fill="#ff4500"/>
<rect x="1276" y="491" width="5" height="11" fill="#ff4500"/>
<rect x="1292" y="490" width="5" height="1" fill="#ff4500"/>
<rect x="1294" y="489" width="1" height="3" fill="#ff4500"/>
<rect x="1284" y="491" width="5" height="1" fill="#000"/>
<rect x="1286" y="492" width="1" height="1" fill="#000"/>
</g>
<g id="macd" class="crisp">
<rect x="14" y="549" width="1" height="36" fill="#c0c0c0"/>
<rect x="22" y="549" width="1" height="35" fill="#c0c0c0"/>
<rect x="30" y="549" width="1" height="33" fill="#c0c0c0"/>
<rect x="38" y="549" width="1" height="29" fill="#c0c0c0"/>
<rect x="46" y="549" width="1" height="27" fill="#c0c0c0"/>
<rect x="54" y="549" width="1" height="23" fill="#c0c0c0"/>
<rect x="62" y="549" width="1" height="21" fill="#c0c0c0"/>
<rect x="70" y="549" width="1" height="18" fill="#c0c0c0"/>
<rect x="78" y="549" width="1" height="15" fill="#c0c0c0"/>
<rect x="86" y="549" width="1" height="13" fill="#c0c0c0"/>
<rect x="94" y="549" width="1" height="12" fill="#c0c0c0"/>
<rect x="102" y="549" width="1" height="11" fill="#c0c0c0"/>
<rect x="110" y="549" width="1" height="10" fill="#c0c0c0"/>
<rect x="118" y="549" width="1" height="8" fill="#c0c0c0"/>
<rect x="126" y="549" width="1" height="8" fill="#c0c0c0"/>
<rect x="134" y="549" width="1" height="8" fill="#c0c0c0"/>
<rect x="142" y="549" width="1" height="8" fill="#c0c0c0"/>
<rect x="150" y="549" width="1" height="7" fill="#c0c0c0"/>
<rect x="158" y="549" width="1" height="7" fill="#c0c0c0"/>
<rect x="166" y="549" width="1" height="6" fill="#c0c0c0"/>
<rect x="174" y="549" width="1" height="5" fill="#c0c0c0"/>
<rect x="182" y="549" width="1" height="7" fill="#c0c0c0"/>
<rect x="190" y="549" width="1" height="16" fill="#c0c0c0"/>
<rect x="198" y="549" width="1" height="21" fill="#c0c0c0"/>
<rect x="206" y="549" width="1" height="23" fill="#c0c0c0"/>
<rect x="214" y="549" width="1" height="24" fill="#c0c0c0"/>
<rect x="222" y="549" width="1" height="24" fill="#c0c0c0"/>
<rect x="230" y="549" width="1" height="23" fill="#c0c0c0"/>
<rect x="238" y="549" width="1" height="23" fill="#c0c0c0"/>
<rect x="246" y="549" width="1" height="22" fill="#c0c0c0"/>
<rect x="254" y="549" width="1" height="22" fill="#c0c0c0"/>
<rect x="262" y="549" width="1" height="22" fill="#c0c0c0"/>
<rect x="270" y="549" width="1" height="22" fill="#c0c0c0"/>
<rect x="278" y="549" width="1" height="22" fill="#c0c0c0"/>
<rect x="286" y="549" width="1" height="22" fill="#c0c0c0"/>
<rect x="294" y="549" width="1" height="22" fill="#c0c0c0"/>
<rect x="302" y="549" width="1" height="22" fill="#c0c0c0"/>
<rect x="310" y="549" width="1" height="23" fill="#c0c0c0"/>
<rect x="318" y="549" width="1" height="24" fill="#c0c0c0"/>
<rect x="326" y="549" width="1" height="27" fill="#c0c0c0"/>
<rect x="334" y="549" width="1" height="32" fill="#c0c0c0"/>
<rect x="342" y="549" width="1" height="35" fill="#c0c0c0"/>
<rect x="350" y="549" width="1" height="37" fill="#c0c0c0"/>
<rect x="358" y="549" width="1" height="36" fill="#c0c0c0"/>
<rect x="366" y="549" width="1" height="36" fill="#c0c0c0"/>
<rect x="374" y="549" width="1" height="35" fill="#c0c0c0"/>
<rect x="382" y="549" width="1" height="33" fill="#c0c0c0"/>
<rect x="390" y="549" width="1" height="31" fill="#c0c0c0"/>
<rect x="398" y="549" width="1" height="29" fill="#c0c0c0"/>
<rect x="406" y="549" width="1" height="28" fill="#c0c0c0"/>
<rect x="414" y="549" width="1" height="27" fill="#c0c0c0"/>
<rect x="422" y="549" width="1" height="24" fill="#c0c0c0"/>
<rect x="430" y="549" width="1" height="22" fill="#c0c0c0"/>
<rect x="438" y="549" width="1" height="20" fill="#c0c0c0"/>
<rect x="446" y="549" width="1" height="18" fill="#c0c0c0"/>
<rect x="454" y="549" width="1" height="16" fill="#c0c0c0"/>
<rect x="462" y="549" width="1" height="15" fill="#c0c0c0"/>
<rect x="470" y="549" width="1" height="16" fill="#c0c0c0"/>
<rect x="478" y="549" width="1" height="17" fill="#c0c0c0"/>
<rect x="486" y="549" width="1" height="18" fill="#c0c0c0"/>
<rect x="494" y="549" width="1" height="18" fill="#c0c0c0"/>
<rect x="502" y="549" width="1" height="19" fill="#c0c0c0"/>
<rect x="510" y="549" width="1" height="18" fill="#c0c0c0"/>
<rect x="518" y="549" width="1" height="16" fill="#c0c0c0"/>
<rect x="526" y="549" width="1" height="14" fill="#c0c0c0"/>
<rect x="534" y="549" width="1" height="13" fill="#c0c0c0"/>
<rect x="542" y="549" width="1" height="11" fill="#c0c0c0"/>
<rect x="550" y="549" width="1" height="10" fill="#c0c0c0"/>
<rect x="558" y="549" width="1" height="10" fill="#c0c0c0"/>
<rect x="566" y="549" width="1" height="11" fill="#c0c0c0"/>
<rect x="574" y="549" width="1" height="11" fill="#c0c0c0"/>
<rect x="582" y="549" width="1" height="10" fill="#c0c0c0"/>
<rect x="590" y="549" width="1" height="7" fill="#c0c0c0"/>
<rect x="598" y="549" width="1" height="1" fill="#c0c0c0"/>
<rect x="606" y="548" width="1" height="1" fill="#c0c0c0"/>
<rect x="614" y="545" width="1" height="4" fill="#c0c0c0"/>
<rect x="622" y="543" width="1" height="6" fill="#c0c0c0"/>
<rect x="630" y="542" width="1" height="7" fill="#c0c0c0"/>
<rect x="638" y="541" width="1" height="8" fill="#c0c0c0"/>
<rect x="646" y="540" width="1" height="9" fill="#c0c0c0"/>
<rect x="654" y="538" width="1" height="11" fill="#c0c0c0"/>
<rect x="662" y="536" width="1" height="13" fill="#c0c0c0"/>
<rect x="670" y="536" width="1" height="13" fill="#c0c0c0"/>
<rect x="678" y="537" width="1" height="12" fill="#c0c0c0"/>
<rect x="686" y="538" width="1" height="11" fill="#c0c0c0"/>
<rect x="694" y="539" width="1" height="10" fill="#c0c0c0"/>
<rect x="702" y="541" width="1" height="8" fill="#c0c0c0"/>
<rect x="710" y="542" width="1" height="7" fill="#c0c0c0"/>
<rect x="718" y="542" width="1" height="7" fill="#c0c0c0"/>
<rect x="726" y="541" width="1" height="8" fill="#c0c0c0"/>
<rect x="734" y="542" width="1" height="7" fill="#c0c0c0"/>
<rect x="742" y="544" width="1" height="5" fill="#c0c0c0"/>
<rect x="750" y="545" width="1" height="4" fill="#c0c0c0"/>
<rect x="758" y="548" width="1" height="1" fill="#c0c0c0"/>
<rect x="766" y="549" width="1" height="1" fill="#c0c0c0"/>
<rect x="774" y="549" width="1" height="3" fill="#c0c0c0"/>
<rect x="782" y="549" width="1" height="6" fill="#c0c0c0"/>
<rect x="790" y="549" width="1" height="7" fill="#c0c0c0"/>
<rect x="798" y="549" width="1" height="8" fill="#c0c0c0"/>
<rect x="806" y="549" width="1" height="8" fill="#c0c0c0"/>
<rect x="814" y="549" width="1" height="5" fill="#c0c0c0"/>
<rect x="822" y="549" width="1" height="3" fill="#c0c0c0"/>
<rect x="830" y="549" width="1" height="2" fill="#c0c0c0"/>
<rect x="838" y="549" width="1" height="1" fill="#c0c0c0"/>
<rect x="846" y="549" width="1" height="1" fill="#c0c0c0"/>
<rect x="870" y="549" width="1" height="1" fill="#c0c0c0"/>
<rect x="878" y="549" width="1" height="3" fill="#c0c0c0"/>
<rect x="886" y="549" width="1" height="6" fill="#c0c0c0"/>
<rect x="894" y="549" width="1" height="7" fill="#c0c0c0"/>
<rect x="902" y="549" width="1" height="8" fill="#c0c0c0"/>
<rect x="910" y="549" width="1" height="7" fill="#c0c0c0"/>
<rect x="918" y="549" width="1" height="6" fill="#c0c0c0"/>
<rect x="926" y="549" width="1" height="7" fill="#c0c0c0"/>
<rect x="934" y="549" width="1" height="6" fill="#c0c0c0"/>
<rect x="942" y="549" width="1" height="5" fill="#c0c0c0"/>
<rect x="950" y="549" width="1" height="3" fill="#c0c0c0"/>
<rect x="958" y="549" width="1" height="2" fill="#c0c0c0"/>
<rect x="982" y="549" width="1" height="2" fill="#c0c0c0"/>
<rect x="990" y="549" width="1" height="3" fill="#c0c0c0"/>
<rect x="998" y="549" width="1" height="4" fill="#c0c0c0"/>
<rect x="1006" y="549" width="1" height="5" fill="#c0c0c0"/>
<rect x="1014" y="549" width="1" height="5" fill="#c0c0c0"/>
<rect x="1022" y="549" width="1" height="3" fill="#c0c0c0"/>
<rect x="1030" y="549" width="1" height="2" fill="#c0c0c0"/>
<rect x="1038" y="549" width="1" height="1" fill="#c0c0c0"/>
<rect x="1046" y="548" width="1" height="1" fill="#c0c0c0"/>
<rect x="1054" y="548" width="1" height="1" fill="#c0c0c0"/>
<rect x="1062" y="548" width="1" height="1" fill="#c0c0c0"/>
<rect x="1070" y="548" width="1" height="1" fill="#c0c0c0"/>
<rect x="1102" y="549" width="1" height="3" fill="#c0c0c0"/>
<rect x="1110" y="549" width="1" height="4" fill="#c0c0c0"/>
<rect x="1118" y="549" width="1" height="5" fill="#c0c0c0"/>
<rect x="1126" y="549" width="1" height="8" fill="#c0c0c0"/>
<rect x="1134" y="549" width="1" height="11" fill="#c0c0c0"/>
<rect x="1142" y="549" width="1" height="13" fill="#c0c0c0"/>
<rect x="1150" y="549" width="1" height="16" fill="#c0c0c0"/>
<rect x="1158" y="549" width="1" height="18" fill="#c0c0c0"/>
<rect x="1166" y="549" width="1" height="21" fill="#c0c0c0"/>
<rect x="1174" y="549" width="1" height="27" fill="#c0c0c0"/>
<rect x="1182" y="549" width="1" height="31" fill="#c0c0c0"/>
<rect x="1190" y="549" width="1" height="34" fill="#c0c0c0"/>
<rect x="1198" y="549" width="1" height="36" fill="#c0c0c0"/>
<rect x="1206" y="549" width="1" height="37" fill="#c0c0c0"/>
<rect x="1214" y="549" width="1" height="35" fill="#c0c0c0"/>
<rect x="1222" y="549" width="1" height="33" fill="#c0c0c0"/>
<rect x="1230" y="549" width="1" height="32" fill="#c0c0c0"/>
<rect x="1238" y="549" width="1" height="31" fill="#c0c0c0"/>
<rect x="1246" y="549" width="1" height="30" fill="#c0c0c0"/>
<rect x="1254" y="549" width="1" height="31" fill="#c0c0c0"/>
<rect x="1262" y="549" width="1" height="30" fill="#c0c0c0"/>
<rect x="1270" y="549" width="1" height="31" fill="#c0c0c0"/>
<rect x="1278" y="549" width="1" height="31" fill="#c0c0c0"/>
<rect x="1286" y="549" width="1" height="30" fill="#c0c0c0"/>
<rect x="1294" y="549" width="1" height="29" fill="#c0c0c0"/>
<path d="M684 538.5h3M690 538.5h3M696 538.5h3M702 538.5h3M708 538.5h3M714 538.5h3M720 538.5h3M673 539.5h2M678 539.5h3M726 539.5h3M732 539.5h3M668 540.5h1M672 540.5h1M738 540.5h3M744 540.5h3M666 541.5h2M750 541.5h3M756 541.5h3M660 542.5h3M762 542.5h3M656 543.5h1M768 543.5h1M654 544.5h2M769 544.5h2M650 545.5h1M774 545.5h3M648 546.5h2M780 546.5h3M786 546.5h1M644 547.5h1M787 547.5h2M792 547.5h1M642 548.5h2M793 548.5h2M638 549.5h1M798 549.5h3M1075 549.5h2M1080 549.5h3M1086 549.5h3M1092 549.5h3M636 550.5h2M1068 550.5h3M1074 550.5h1M1098 550.5h3M1104 550.5h3M632 551.5h1M804 551.5h3M870 551.5h3M876 551.5h3M882 551.5h3M888 551.5h3M1010 551.5h1M1014 551.5h3M1020 551.5h3M1026 551.5h3M1032 551.5h3M1038 551.5h3M1044 551.5h3M1050 551.5h3M1056 551.5h3M1062 551.5h3M1110 551.5h3M1116 551.5h3M1122 551.5h3M630 552.5h2M864 552.5h3M894 552.5h3M978 552.5h3M984 552.5h3M990 552.5h3M996 552.5h3M1002 552.5h3M1008 552.5h2M1128 552.5h3M1134 552.5h3M619 553.5h2M624 553.5h3M810 553.5h3M816 553.5h2M846 553.5h3M852 553.5h3M858 553.5h3M900 553.5h3M906 553.5h3M972 553.5h3M614 554.5h1M618 554.5h1M818 554.5h1M822 554.5h3M828 554.5h3M834 554.5h3M840 554.5h3M912 554.5h3M918 554.5h3M924 554.5h1M948 554.5h3M954 554.5h3M960 554.5h3M966 554.5h3M1140 554.5h1M612 555.5h2M925 555.5h2M930 555.5h3M936 555.5h3M942 555.5h3M1141 555.5h2M606 556.5h3M1146 556.5h3M1152 556.5h1M168 557.5h3M174 557.5h3M180 557.5h3M602 557.5h1M1153 557.5h2M158 558.5h1M162 558.5h3M186 558.5h3M192 558.5h2M600 558.5h2M1158 558.5h3M144 559.5h3M150 559.5h3M156 559.5h2M194 559.5h1M198 559.5h3M594 559.5h3M1164 559.5h1M132 560.5h3M138 560.5h3M204 560.5h1M588 560.5h3M1165 560.5h2M128 561.5h1M205 561.5h2M577 561.5h2M582 561.5h3M1170 561.5h2M126 562.5h2M210 562.5h2M566 562.5h1M570 562.5h3M576 562.5h1M1172 562.5h1M121 563.5h2M212 563.5h1M558 563.5h3M564 563.5h2M1176 563.5h3M120 564.5h1M216 564.5h3M552 564.5h3M115 565.5h2M222 565.5h1M534 565.5h3M540 565.5h3M546 565.5h3M1182 565.5h1M114 566.5h1M223 566.5h2M505 566.5h2M510 566.5h3M516 566.5h3M522 566.5h3M528 566.5h3M1183 566.5h2M108 567.5h3M228 567.5h3M487 567.5h2M492 567.5h3M498 567.5h3M504 567.5h1M234 568.5h3M481 568.5h2M486 568.5h1M1188 568.5h1M102 569.5h3M240 569.5h2M475 569.5h2M480 569.5h1M1189 569.5h2M97 570.5h2M242 570.5h1M246 570.5h1M469 570.5h2M474 570.5h1M1194 570.5h1M96 571.5h1M247 571.5h2M252 571.5h3M282 571.5h3M288 571.5h3M294 571.5h3M300 571.5h3M306 571.5h3M312 571.5h3M318 571.5h3M463 571.5h2M468 571.5h1M1195 571.5h2M90 572.5h3M258 572.5h3M264 572.5h3M270 572.5h3M276 572.5h3M324 572.5h3M458 572.5h1M462 572.5h1M1200 572.5h2M85 573.5h2M330 573.5h3M456 573.5h2M1202 573.5h1M84 574.5h1M336 574.5h3M450 574.5h3M1206 574.5h3M80 575.5h1M342 575.5h3M444 575.5h3M78 576.5h2M348 576.5h3M438 576.5h3M1212 576.5h3M354 577.5h3M433 577.5h2M1218 577.5h1M72 578.5h3M360 578.5h3M428 578.5h1M432 578.5h1M1219 578.5h2M366 579.5h3M426 579.5h2M1224 579.5h1M66 580.5h3M372 580.5h3M378 580.5h2M420 580.5h3M1225 580.5h2M1285 580.5h2M1290 580.5h3M61 581.5h2M380 581.5h1M384 581.5h3M414 581.5h3M1230 581.5h3M1268 581.5h1M1272 581.5h3M1278 581.5h3M1284 581.5h1M56 582.5h1M60 582.5h1M390 582.5h3M396 582.5h1M404 582.5h1M408 582.5h3M1236 582.5h3M1242 582.5h3M1248 582.5h3M1254 582.5h3M1260 582.5h3M1266 582.5h2M54 583.5h2M397 583.5h2M402 583.5h2M48 584.5h3M42 586.5h3M36 587.5h3M6 588.5h3M12 588.5h3M30 588.5h3M18 589.5h3M24 589.5h3" stroke="#ff0000" stroke-width="1" fill="none"/>
</g>
<g id="rsi" class="crisp">
<line x1="7" y1="634.5" x2="1635" y2="634.5" stroke="#c0c0c0" stroke-width="1" stroke-dasharray="3 3"/>
<line x1="7" y1="684.5" x2="1635" y2="684.5" stroke="#c0c0c0" stroke-width="1" stroke-dasharray="3 3"/>
<path d="M602 639.5h5M598 640.5h4M607 640.5h1M597 641.5h1M608 641.5h1M661 641.5h2M596 642.5h1M609 642.5h1M659 642.5h2M663 642.5h1M596 643.5h1M610 643.5h2M645 643.5h3M657 643.5h2M663 643.5h1M595 644.5h1M612 644.5h1M642 644.5h3M648 644.5h4M655 644.5h2M664 644.5h1M718 644.5h1M594 645.5h1M613 645.5h1M640 645.5h2M652 645.5h3M665 645.5h1M717 645.5h1M719 645.5h1M593 646.5h1M614 646.5h1M636 646.5h4M666 646.5h1M716 646.5h1M719 646.5h1M814 646.5h1M592 647.5h1M615 647.5h2M632 647.5h4M666 647.5h1M716 647.5h1M720 647.5h1M814 647.5h2M592 648.5h1M617 648.5h1M629 648.5h3M667 648.5h1M715 648.5h1M721 648.5h1M813 648.5h1M815 648.5h1M591 649.5h1M618 649.5h2M626 649.5h3M668 649.5h1M714 649.5h1M721 649.5h1M813 649.5h1M816 649.5h1M590 650.5h1M620 650.5h2M624 650.5h2M669 650.5h1M713 650.5h1M722 650.5h1M812 650.5h1M817 650.5h1M1028 650.5h4M590 651.5h1M622 651.5h2M669 651.5h1M712 651.5h1M723 651.5h1M812 651.5h1M817 651.5h1M1024 651.5h4M1032 651.5h2M589 652.5h1M670 652.5h9M712 652.5h1M723 652.5h1M812 652.5h1M818 652.5h1M1022 652.5h2M1034 652.5h3M589 653.5h1M679 653.5h2M711 653.5h1M724 653.5h1M811 653.5h1M819 653.5h1M958 653.5h2M1021 653.5h1M1037 653.5h3M588 654.5h1M681 654.5h2M710 654.5h1M725 654.5h1M811 654.5h1M819 654.5h1M956 654.5h2M960 654.5h2M1020 654.5h1M1040 654.5h4M588 655.5h1M683 655.5h2M708 655.5h2M725 655.5h1M810 655.5h1M820 655.5h1M954 655.5h2M962 655.5h3M1019 655.5h1M1044 655.5h11M587 656.5h1M685 656.5h2M707 656.5h1M726 656.5h2M810 656.5h1M821 656.5h1M918 656.5h1M938 656.5h6M953 656.5h1M965 656.5h2M1018 656.5h1M1055 656.5h1M77 657.5h2M587 657.5h1M687 657.5h1M706 657.5h1M728 657.5h2M750 657.5h1M810 657.5h1M821 657.5h1M842 657.5h13M916 657.5h2M919 657.5h2M933 657.5h5M944 657.5h4M951 657.5h2M967 657.5h1M1018 657.5h1M1056 657.5h1M75 658.5h2M79 658.5h1M586 658.5h1M688 658.5h2M704 658.5h2M730 658.5h3M748 658.5h2M751 658.5h1M809 658.5h1M822 658.5h4M834 658.5h8M855 658.5h2M915 658.5h1M921 658.5h1M931 658.5h2M948 658.5h3M967 658.5h1M1017 658.5h1M1057 658.5h1M73 659.5h2M80 659.5h1M116 659.5h3M142 659.5h10M586 659.5h1M690 659.5h1M703 659.5h1M733 659.5h3M746 659.5h2M752 659.5h1M809 659.5h1M826 659.5h8M857 659.5h1M914 659.5h1M922 659.5h2M929 659.5h2M968 659.5h1M1016 659.5h1M1058 659.5h2M1110 659.5h1M62 660.5h4M71 660.5h2M81 660.5h1M112 660.5h4M119 660.5h1M141 660.5h1M152 660.5h2M541 660.5h5M586 660.5h1M691 660.5h1M700 660.5h3M736 660.5h2M745 660.5h1M752 660.5h1M808 660.5h1M858 660.5h2M912 660.5h2M924 660.5h2M927 660.5h2M969 660.5h1M1015 660.5h1M1060 660.5h1M1109 660.5h1M1111 660.5h1M60 661.5h2M66 661.5h5M82 661.5h1M106 661.5h6M120 661.5h1M141 661.5h1M154 661.5h3M173 661.5h2M518 661.5h4M538 661.5h3M546 661.5h5M585 661.5h1M692 661.5h2M696 661.5h4M738 661.5h3M743 661.5h2M753 661.5h1M808 661.5h1M860 661.5h2M911 661.5h1M926 661.5h1M970 661.5h1M1014 661.5h1M1061 661.5h1M1108 661.5h1M1111 661.5h1M58 662.5h2M83 662.5h1M101 662.5h5M121 662.5h1M140 662.5h1M157 662.5h3M170 662.5h3M174 662.5h1M518 662.5h1M522 662.5h8M536 662.5h2M551 662.5h1M585 662.5h1M694 662.5h2M741 662.5h2M754 662.5h1M808 662.5h1M862 662.5h2M910 662.5h1M970 662.5h1M1013 662.5h1M1062 662.5h1M1106 662.5h2M1112 662.5h1M57 663.5h1M84 663.5h1M98 663.5h3M122 663.5h1M139 663.5h1M160 663.5h4M168 663.5h2M175 663.5h1M453 663.5h2M517 663.5h1M530 663.5h6M551 663.5h1M584 663.5h1M755 663.5h1M807 663.5h1M864 663.5h4M908 663.5h2M971 663.5h1M1013 663.5h1M1063 663.5h2M1105 663.5h1M1113 663.5h1M55 664.5h2M85 664.5h1M96 664.5h2M122 664.5h1M138 664.5h1M164 664.5h4M175 664.5h1M450 664.5h3M455 664.5h1M517 664.5h1M552 664.5h1M584 664.5h1M756 664.5h1M807 664.5h1M868 664.5h3M907 664.5h1M972 664.5h1M981 664.5h13M1012 664.5h1M1065 664.5h2M1104 664.5h1M1114 664.5h1M53 665.5h2M86 665.5h10M123 665.5h1M138 665.5h1M176 665.5h1M438 665.5h4M448 665.5h2M456 665.5h1M516 665.5h1M553 665.5h1M583 665.5h1M756 665.5h1M806 665.5h1M871 665.5h1M906 665.5h1M973 665.5h1M978 665.5h3M994 665.5h5M1011 665.5h1M1067 665.5h2M1082 665.5h16M1103 665.5h1M1114 665.5h1M51 666.5h2M124 666.5h1M137 666.5h1M176 666.5h1M436 666.5h2M442 666.5h6M457 666.5h1M516 666.5h1M554 666.5h1M583 666.5h1M757 666.5h1M774 666.5h10M805 666.5h2M872 666.5h2M904 666.5h2M973 666.5h1M976 666.5h2M999 666.5h1M1011 666.5h1M1069 666.5h13M1098 666.5h5M1115 666.5h1M49 667.5h2M125 667.5h1M136 667.5h1M177 667.5h1M422 667.5h1M435 667.5h1M458 667.5h2M515 667.5h1M554 667.5h1M582 667.5h1M758 667.5h1M773 667.5h1M784 667.5h4M803 667.5h2M874 667.5h1M892 667.5h6M903 667.5h1M974 667.5h2M1000 667.5h1M1010 667.5h1M1116 667.5h1M30 668.5h1M47 668.5h2M126 668.5h2M135 668.5h1M177 668.5h1M420 668.5h2M423 668.5h2M434 668.5h1M460 668.5h1M515 668.5h1M555 668.5h1M578 668.5h5M759 668.5h1M772 668.5h1M788 668.5h4M801 668.5h2M875 668.5h1M888 668.5h4M898 668.5h5M1001 668.5h1M1009 668.5h1M1117 668.5h1M29 669.5h1M31 669.5h2M45 669.5h2M128 669.5h4M135 669.5h1M177 669.5h1M418 669.5h2M425 669.5h2M432 669.5h2M461 669.5h1M515 669.5h1M556 669.5h1M574 669.5h4M760 669.5h1M771 669.5h1M792 669.5h4M799 669.5h2M876 669.5h2M882 669.5h6M1002 669.5h1M1009 669.5h1M1117 669.5h1M28 670.5h1M33 670.5h2M42 670.5h3M132 670.5h3M178 670.5h1M417 670.5h1M427 670.5h2M431 670.5h1M462 670.5h1M514 670.5h1M557 670.5h1M572 670.5h2M761 670.5h1M770 670.5h1M796 670.5h3M878 670.5h4M1003 670.5h1M1008 670.5h1M1118 670.5h1M1214 670.5h1M27 671.5h1M35 671.5h2M40 671.5h2M178 671.5h1M415 671.5h2M429 671.5h2M463 671.5h1M514 671.5h1M557 671.5h1M570 671.5h2M762 671.5h2M769 671.5h1M1004 671.5h1M1007 671.5h1M1119 671.5h1M1214 671.5h2M26 672.5h1M37 672.5h3M179 672.5h1M245 672.5h5M414 672.5h1M464 672.5h2M513 672.5h1M558 672.5h2M569 672.5h1M764 672.5h1M768 672.5h1M1005 672.5h1M1007 672.5h1M1120 672.5h1M1213 672.5h1M1216 672.5h1M25 673.5h1M179 673.5h1M242 673.5h3M250 673.5h13M413 673.5h1M466 673.5h1M513 673.5h1M560 673.5h4M567 673.5h2M765 673.5h1M767 673.5h1M1006 673.5h1M1121 673.5h1M1213 673.5h1M1217 673.5h1M24 674.5h1M179 674.5h1M240 674.5h2M263 674.5h2M277 674.5h3M374 674.5h2M412 674.5h1M467 674.5h1M513 674.5h1M564 674.5h3M766 674.5h1M1122 674.5h2M1212 674.5h1M1218 674.5h2M23 675.5h1M180 675.5h1M237 675.5h3M265 675.5h2M274 675.5h3M280 675.5h4M373 675.5h1M376 675.5h4M410 675.5h2M468 675.5h2M512 675.5h1M1124 675.5h1M1212 675.5h1M1220 675.5h1M18 676.5h5M180 676.5h1M234 676.5h3M267 676.5h2M272 676.5h2M284 676.5h11M373 676.5h1M380 676.5h20M409 676.5h1M470 676.5h1M490 676.5h8M512 676.5h1M1125 676.5h1M1212 676.5h1M1221 676.5h1M1226 676.5h8M13 677.5h5M181 677.5h1M210 677.5h16M232 677.5h2M269 677.5h3M295 677.5h1M372 677.5h1M400 677.5h2M408 677.5h1M471 677.5h2M485 677.5h5M498 677.5h6M511 677.5h1M1126 677.5h2M1211 677.5h1M1222 677.5h4M1234 677.5h13M10 678.5h3M181 678.5h1M206 678.5h4M226 678.5h6M296 678.5h1M372 678.5h1M402 678.5h3M407 678.5h1M473 678.5h1M483 678.5h2M504 678.5h2M511 678.5h1M1128 678.5h4M1211 678.5h1M1247 678.5h2M8 679.5h2M182 679.5h1M205 679.5h1M297 679.5h1M371 679.5h1M405 679.5h2M474 679.5h2M481 679.5h2M506 679.5h3M510 679.5h1M1132 679.5h12M1211 679.5h1M1249 679.5h2M6 680.5h2M182 680.5h1M204 680.5h1M298 680.5h2M370 680.5h1M476 680.5h2M479 680.5h2M509 680.5h2M1144 680.5h2M1210 680.5h1M1251 680.5h2M1290 680.5h5M183 681.5h1M203 681.5h1M300 681.5h1M308 681.5h3M370 681.5h1M478 681.5h1M1146 681.5h3M1210 681.5h1M1253 681.5h5M1277 681.5h13M184 682.5h1M202 682.5h1M301 682.5h1M304 682.5h4M311 682.5h1M369 682.5h1M1149 682.5h2M1209 682.5h1M1258 682.5h6M1275 682.5h2M185 683.5h1M201 683.5h1M302 683.5h2M312 683.5h1M368 683.5h1M1151 683.5h2M1209 683.5h1M1264 683.5h2M1273 683.5h2M186 684.5h1M200 684.5h1M313 684.5h1M368 684.5h1M1153 684.5h2M1209 684.5h1M1266 684.5h3M1271 684.5h2M186 685.5h1M199 685.5h1M314 685.5h1M367 685.5h1M1155 685.5h2M1208 685.5h1M1269 685.5h2M187 686.5h1M197 686.5h2M315 686.5h1M358 686.5h4M367 686.5h1M1157 686.5h2M1208 686.5h1M188 687.5h1M194 687.5h3M316 687.5h1M356 687.5h2M362 687.5h5M1159 687.5h2M1208 687.5h1M189 688.5h1M192 688.5h2M317 688.5h1M355 688.5h1M1161 688.5h2M1207 688.5h1M190 689.5h2M318 689.5h1M354 689.5h1M1163 689.5h2M1207 689.5h1M319 690.5h1M352 690.5h2M1165 690.5h2M1206 690.5h1M320 691.5h1M351 691.5h1M1167 691.5h1M1202 691.5h5M321 692.5h1M348 692.5h3M1168 692.5h1M1194 692.5h8M322 693.5h2M344 693.5h4M1169 693.5h1M1181 693.5h13M324 694.5h1M341 694.5h3M1170 694.5h2M1179 694.5h2M325 695.5h1M339 695.5h2M1172 695.5h1M1177 695.5h2M326 696.5h2M337 696.5h2M1173 696.5h1M1175 696.5h2M328 697.5h4M335 697.5h2M1174 697.5h1M332 698.5h3" stroke="#1e90ff" stroke-width="1" fill="none"/>
</g>
<g id="axis" class="crisp">
<rect x="1636" y="69" width="2" height="1" fill="#000"/>
<rect x="1636" y="118" width="2" height="1" fill="#000"/>
<rect x="1636" y="167" width="2" height="1" fill="#000"/>
<rect x="1636" y="216" width="2" height="1" fill="#000"/>
<rect x="1636" y="265" width="2" height="1" fill="#000"/>
<rect x="1636" y="314" width="2" height="1" fill="#000"/>
<rect x="1636" y="363" width="2" height="1" fill="#000"/>
<rect x="1636" y="412" width="2" height="1" fill="#000"/>
<rect x="1636" y="461" width="2" height="1" fill="#000"/>
<rect x="1636" y="510" width="2" height="1" fill="#000"/>
<rect x="1636" y="533" width="1" height="1" fill="#000"/>
<rect x="1636" y="549" width="1" height="1" fill="#000"/>
<rect x="1636" y="591" width="1" height="1" fill="#000"/>
<rect x="1636" y="596" width="1" height="1" fill="#000"/>
<rect x="1636" y="634" width="1" height="1" fill="#000"/>
<rect x="1636" y="684" width="1" height="1" fill="#000"/>
<rect x="6" y="724" width="1" height="3" fill="#000"/>
<rect x="102" y="724" width="1" height="3" fill="#000"/>
<rect x="198" y="724" width="1" height="3" fill="#000"/>
<rect x="294" y="724" width="1" height="3" fill="#000"/>
<rect x="390" y="724" width="1" height="3" fill="#000"/>
<rect x="486" y="724" width="1" height="3" fill="#000"/>
<rect x="582" y="724" width="1" height="3" fill="#000"/>
<rect x="678" y="724" width="1" height="3" fill="#000"/>
<rect x="774" y="724" width="1" height="3" fill="#000"/>
<rect x="870" y="724" width="1" height="3" fill="#000"/>
<rect x="966" y="724" width="1" height="3" fill="#000"/>
<rect x="1062" y="724" width="1" height="3" fill="#000"/>
<rect x="1158" y="724" width="1" height="3" fill="#000"/>
<rect x="1254" y="724" width="1" height="3" fill="#000"/>
<rect x="1635" y="197" width="2" height="2" fill="#ff0000"/>
<rect x="1635" y="281" width="2" height="2" fill="#ff0000"/>
<rect x="1635" y="353" width="2" height="2" fill="#00ff7f"/>
<rect x="1635" y="490" width="2" height="1" fill="#c0c0c0"/>
<rect x="1635" y="494" width="2" height="2" fill="#0000ff"/>
<rect x="1637" y="192" width="49" height="14" fill="#ff0000"/>
<rect x="1637" y="276" width="49" height="14" fill="#ff0000"/>
<rect x="1637" y="483" width="49" height="14" fill="#000000"/>
<rect x="1637" y="489" width="49" height="14" fill="#0000ff"/>
</g>
<g id="axis-text">
<text x="1642.3" y="74" font-size="12.5" fill="#000" textLength="38.4" lengthAdjust="spacingAndGlyphs">57.830</text>
<text x="1642.3" y="123" font-size="12.5" fill="#000" textLength="38.4" lengthAdjust="spacingAndGlyphs">56.505</text>
<text x="1642.3" y="172" font-size="12.5" fill="#000" textLength="38.4" lengthAdjust="spacingAndGlyphs">55.180</text>
<text x="1642.3" y="221" font-size="12.5" fill="#000" textLength="38.4" lengthAdjust="spacingAndGlyphs">53.830</text>
<text x="1642.3" y="270" font-size="12.5" fill="#000" textLength="38.4" lengthAdjust="spacingAndGlyphs">52.505</text>
<text x="1642.3" y="319" font-size="12.5" fill="#000" textLength="38.4" lengthAdjust="spacingAndGlyphs">51.180</text>
<text x="1642.3" y="368" font-size="12.5" fill="#000" textLength="38.4" lengthAdjust="spacingAndGlyphs">49.830</text>
<text x="1642.3" y="417" font-size="12.5" fill="#000" textLength="38.4" lengthAdjust="spacingAndGlyphs">48.505</text>
<text x="1642.3" y="466" font-size="12.5" fill="#000" textLength="38.4" lengthAdjust="spacingAndGlyphs">47.155</text>
<text x="1642.3" y="515" font-size="12.5" fill="#000" textLength="38.4" lengthAdjust="spacingAndGlyphs">45.830</text>
<rect x="1637" y="348" width="49" height="14" fill="#00ff7f" class="crisp"/>
<text x="1642.3" y="204" font-size="12.5" fill="#fff" textLength="38.4" lengthAdjust="spacingAndGlyphs">54.319</text>
<text x="1642.3" y="288" font-size="12.5" fill="#fff" textLength="38.4" lengthAdjust="spacingAndGlyphs">52.032</text>
<text x="1642.3" y="360" font-size="12.5" fill="#fff" textLength="38.4" lengthAdjust="spacingAndGlyphs">50.071</text>
<clipPath id="clipBid"><rect x="1637" y="483" width="50" height="6"/></clipPath>
<text x="1642.3" y="495" font-size="12.5" fill="#fff" textLength="38.4" lengthAdjust="spacingAndGlyphs" clip-path="url(#clipBid)">46.380</text>
<text x="1642.3" y="501" font-size="12.5" fill="#fff" textLength="38.4" lengthAdjust="spacingAndGlyphs">46.248</text>
<text x="1639.6" y="545" font-size="12.5" fill="#000" textLength="37.6" lengthAdjust="spacingAndGlyphs">0.6089</text>
<text x="1639.6" y="554" font-size="12.5" fill="#000" textLength="23.8" lengthAdjust="spacingAndGlyphs">0.00</text>
<text x="1639.3" y="589" font-size="12.5" fill="#000" textLength="35.4" lengthAdjust="spacingAndGlyphs">-1.537</text>
<text x="1639.6" y="608" font-size="12.5" fill="#000" textLength="19.8" lengthAdjust="spacingAndGlyphs">100</text>
<text x="1638.4" y="639" font-size="12.5" fill="#000" textLength="13.6" lengthAdjust="spacingAndGlyphs">70</text>
<text x="1638.4" y="689" font-size="12.5" fill="#000" textLength="13.6" lengthAdjust="spacingAndGlyphs">30</text>
<text x="1639.6" y="720" font-size="12.5" fill="#000" textLength="6.2" lengthAdjust="spacingAndGlyphs">0</text>
<text x="5.7" y="739" font-size="12.5" fill="#000" textLength="69.6" lengthAdjust="spacingAndGlyphs">15 Nov 2018</text>
<text x="101.7" y="739" font-size="12.5" fill="#000" textLength="74" lengthAdjust="spacingAndGlyphs">18 Nov 23:00</text>
<text x="197.7" y="739" font-size="12.5" fill="#000" textLength="74" lengthAdjust="spacingAndGlyphs">20 Nov 20:00</text>
<text x="293.7" y="739" font-size="12.5" fill="#000" textLength="74" lengthAdjust="spacingAndGlyphs">22 Nov 23:00</text>
<text x="389.7" y="739" font-size="12.5" fill="#000" textLength="74" lengthAdjust="spacingAndGlyphs">26 Nov 20:00</text>
<text x="485.7" y="739" font-size="12.5" fill="#000" textLength="74" lengthAdjust="spacingAndGlyphs">28 Nov 20:00</text>
<text x="581.7" y="739" font-size="12.5" fill="#000" textLength="74" lengthAdjust="spacingAndGlyphs">30 Nov 20:00</text>
<text x="677.7" y="739" font-size="12.5" fill="#000" textLength="67.6" lengthAdjust="spacingAndGlyphs">4 Dec 16:00</text>
<text x="773.7" y="739" font-size="12.5" fill="#000" textLength="67.6" lengthAdjust="spacingAndGlyphs">6 Dec 16:00</text>
<text x="869.7" y="739" font-size="12.5" fill="#000" textLength="74" lengthAdjust="spacingAndGlyphs">10 Dec 12:00</text>
<text x="965.7" y="739" font-size="12.5" fill="#000" textLength="74" lengthAdjust="spacingAndGlyphs">12 Dec 12:00</text>
<text x="1061.7" y="739" font-size="12.5" fill="#000" textLength="74" lengthAdjust="spacingAndGlyphs">14 Dec 12:00</text>
<text x="1157.7" y="739" font-size="12.5" fill="#000" textLength="74" lengthAdjust="spacingAndGlyphs">18 Dec 08:00</text>
<text x="1253.7" y="739" font-size="12.5" fill="#000" textLength="74" lengthAdjust="spacingAndGlyphs">20 Dec 08:00</text>
</g>
<g id="titles">
<path d="M9 47h9l-4.5-5z" fill="#000"/>
<text x="23.8" y="49" font-size="12.5" fill="#000" textLength="50.8" lengthAdjust="spacingAndGlyphs">USOil-,H4</text>
<text x="83.2" y="49" font-size="12.5" fill="#000" textLength="38.4" lengthAdjust="spacingAndGlyphs">46.350</text>
<text x="126.1" y="49" font-size="12.5" fill="#000" textLength="38.4" lengthAdjust="spacingAndGlyphs">46.400</text>
<text x="168.8" y="49" font-size="12.5" fill="#000" textLength="38.4" lengthAdjust="spacingAndGlyphs">46.320</text>
<text x="211.9" y="49" font-size="12.5" fill="#000" textLength="38.4" lengthAdjust="spacingAndGlyphs">46.380</text>
<text x="10.3" y="547" font-size="12.5" fill="#000" textLength="178.2" lengthAdjust="spacingAndGlyphs">MACD(12,26,9) -1.0391 -1.1014</text>
<text x="10.3" y="610" font-size="12.5" fill="#000" textLength="91.3" lengthAdjust="spacingAndGlyphs">RSI(14) 33.2392</text>
<text x="1294.5" y="413.6" font-size="33" fill="#ff2000" class="cn"><tspan textLength="166" lengthAdjust="spacingAndGlyphs">多空转折点</tspan><tspan x="1460.6" y="412.3" font-size="35.2" textLength="37.4" lengthAdjust="spacingAndGlyphs">50</tspan></text>
</g>
<g id="trade">
<g class="crisp">
<rect x="7" y="55" width="287" height="80" fill="#ffffff"/>
<rect x="9" y="57" width="68" height="28" fill="url(#gTop)"/>
<rect x="9" y="84" width="141" height="49" fill="url(#gBot)"/>
<rect x="152" y="84" width="140" height="49" fill="url(#gBot)"/>
<rect x="224" y="57" width="68" height="28" fill="url(#gTop)"/>
<path d="M9.5 57.5H76.5V84.5H149.5V132.5H9.5Z" fill="none" stroke="#b00000" stroke-width="1"/>
<path d="M291.5 57.5H224.5V84.5H152.5V132.5H291.5Z" fill="none" stroke="#b00000" stroke-width="1"/>
<rect x="13" y="84" width="60" height="1" fill="#9c1010"/>
<rect x="228" y="84" width="60" height="1" fill="#9c1010"/>
<rect x="79" y="57" width="143" height="25" fill="#ffffff"/>
<rect x="79.5" y="57.5" width="142" height="24" fill="none" stroke="#a9a9a9" stroke-width="1"/>
<rect x="80" y="58" width="23" height="23" fill="url(#gBtn)"/>
<rect x="198" y="58" width="23" height="23" fill="url(#gBtn)"/>
<rect x="103" y="58" width="1" height="23" fill="#a9a9a9"/>
<rect x="197" y="58" width="1" height="23" fill="#a9a9a9"/>
</g>
<path d="M88 68h7.4l-3.7 4.2z" fill="#4a64c8"/>
<path d="M206 71.6h7.4l-3.7-4.2z" fill="#4a64c8"/>
<text x="26.4" y="75.6" font-size="15" fill="#fff0f0" textLength="32.6" lengthAdjust="spacingAndGlyphs">SELL</text>
<text x="243" y="75.6" font-size="15.2" fill="#fff0f0" textLength="28.4" lengthAdjust="spacingAndGlyphs">BUY</text>
<text x="162.6" y="75" font-size="16.2" fill="#000" textLength="31.4" lengthAdjust="spacingAndGlyphs">1.00</text>
<text x="48" y="122" font-size="14" fill="#fff" textLength="17.6" lengthAdjust="spacingAndGlyphs" font-weight="bold">46</text>
<text x="70.2" y="122" font-size="41.6" fill="#fff" textLength="43.6" lengthAdjust="spacingAndGlyphs">38</text>
<text x="119" y="104.3" font-size="14" fill="#fff" textLength="9.6" lengthAdjust="spacingAndGlyphs" font-weight="bold">0</text>
<text x="190.2" y="122" font-size="14" fill="#fff" textLength="17.6" lengthAdjust="spacingAndGlyphs" font-weight="bold">46</text>
<text x="211.4" y="122" font-size="41.6" fill="#fff" textLength="45.6" lengthAdjust="spacingAndGlyphs">44</text>
<text x="261.6" y="104.3" font-size="14" fill="#fff" textLength="9.6" lengthAdjust="spacingAndGlyphs" font-weight="bold">0</text>
</g>
<g id="tabs" class="crisp">
<rect x="3" y="747" width="1684" height="1" fill="#ececec"/>
<rect x="3" y="750" width="1684" height="1" fill="#fbfbfb"/>
<rect x="3" y="751" width="1684" height="23" fill="#f0f0f0"/>
<rect x="3" y="750" width="1" height="24" fill="#fbfbfb"/>
<rect x="1" y="749" width="1686" height="1" fill="#000"/>
<rect x="0" y="774" width="1687" height="1" fill="#ffffff"/>
<rect x="0" y="775" width="1687" height="4" fill="#f0f0f0"/>
<rect x="0" y="779" width="1687" height="1" fill="#9c9c9c"/>
<rect x="144" y="752" width="1" height="19" fill="#707070"/>
<rect x="264" y="752" width="1" height="19" fill="#707070"/>
<rect x="568" y="752" width="1" height="19" fill="#707070"/>
<rect x="363" y="750" width="1" height="23" fill="#fbfbfb"/>
<rect x="364" y="749" width="100" height="24" fill="#ffffff"/>
<rect x="364" y="749" width="1" height="24" fill="#000"/>
<rect x="463" y="749" width="1" height="24" fill="#000"/>
<rect x="364" y="772" width="100" height="1" fill="#000"/>
<rect x="464" y="750" width="1" height="23" fill="#fbfbfb"/>
<path d="M1648.8 760l5-4.3v8.6z" fill="#a0a0a0"/><path d="M1678.4 760l-5-4.3v8.6z" fill="#a0a0a0"/>
</g>
<g id="tabs-text">
<text x="22" y="767" font-size="15.1" fill="#6d6d6d" textLength="106.4" lengthAdjust="spacingAndGlyphs">CHINA300-,H1</text>
<text x="156.4" y="767" font-size="15.1" fill="#6d6d6d" textLength="93.8" lengthAdjust="spacingAndGlyphs">XAUUSD-,H1</text>
<text x="277.6" y="767" font-size="15.1" fill="#6d6d6d" textLength="73" lengthAdjust="spacingAndGlyphs">UKOil-,H4</text>
<text x="378.4" y="767" font-size="15.1" fill="#000" textLength="70.8" lengthAdjust="spacingAndGlyphs">USOil-,H4</text>
<text x="478" y="767" font-size="15.1" fill="#6d6d6d" textLength="75.6" lengthAdjust="spacingAndGlyphs">SP500-,H4</text>
</g>
</svg>
</body>
</html>
